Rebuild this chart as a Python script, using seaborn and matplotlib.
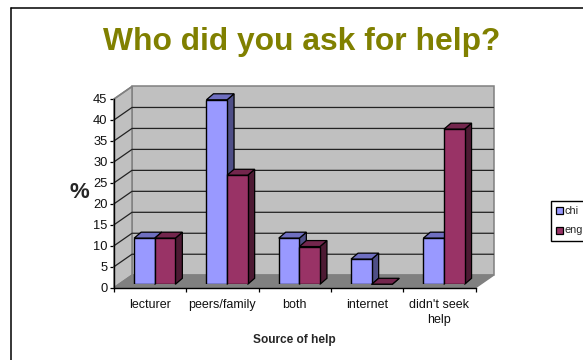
import matplotlib
matplotlib.use("Agg")
import matplotlib.pyplot as plt
from matplotlib.patches import Polygon, Rectangle
from matplotlib.lines import Line2D
import pandas as pd
import seaborn as sns

sources = ["lecturer", "peers/family", "both", "internet", "didn't seek\nhelp"]
chinese = [11, 44, 11, 6, 11]
english = [11, 26, 9, 0, 37]
y_ticks = [0, 5, 10, 15, 20, 25, 30, 35, 40, 45]

W, H = 583, 360
FRONT = dict(left=114, right=475.5, bottom=287.7, top=99)   # front plane, px
WALL_DX, WALL_DY = 18, 12.5                                 # depth of the chart box, px
BAR_DX, BAR_DY = 4.6, 3.4                                   # bar offset inside the box, px
BAR_DEPTH_X, BAR_DEPTH_Y = 7, 6                             # bar extrusion, px

COL_FACE = {"chi": "#9999FF", "eng": "#993366"}
COL_SIDE = {"chi": "#4F4F87", "eng": "#4D1A33"}
COL_TOP = {"chi": "#6F6FC0", "eng": "#73264D"}

sns.set_theme(style="white", rc={"font.family": ["Liberation Sans", "DejaVu Sans"]})
plt.rcParams["font.family"] = ["Liberation Sans", "DejaVu Sans"]

fig = plt.figure(figsize=(W / 100, H / 100), dpi=100, facecolor="white")


def pixel_axes(left, right, top, bottom, **kw):
    return fig.add_axes([left / W, 1 - bottom / H, (right - left) / W, (bottom - top) / H], **kw)


# slide border and title
fig.add_artist(Line2D([10.5 / W, 10.5 / W], [0, 1 - 7.5 / H], color="black", lw=1.1))
fig.add_artist(Line2D([10.5 / W, 1], [1 - 7.5 / H, 1 - 7.5 / H], color="black", lw=1.1))
fig.text(301.5 / W, 1 - 42 / H, "Who did you ask for help?", color="#808000",
         fontsize=22.9, fontweight="bold", ha="center", va="center")

# frame axes: the front plane of the chart box, with the real ticks and labels
frame = pixel_axes(FRONT["left"], FRONT["right"], FRONT["top"], FRONT["bottom"])
frame.set_xlim(0, len(sources))
frame.set_ylim(0, 45)
frame.patch.set_alpha(0)
ux = len(sources) / (FRONT["right"] - FRONT["left"])
uy = 45 / (FRONT["bottom"] - FRONT["top"])
dx, dy = WALL_DX * ux, WALL_DY * uy
n = len(sources)

edge = dict(edgecolor="#808080", lw=1.1, clip_on=False, zorder=1)
frame.add_patch(Polygon([(dx, dy), (n + dx, dy), (n + dx, 45 + dy), (dx, 45 + dy)], facecolor="#C0C0C0", **edge))
frame.add_patch(Polygon([(0, 0), (dx, dy), (dx, 45 + dy), (0, 45)], facecolor="#C0C0C0", **edge))
frame.add_patch(Polygon([(0, 0), (n, 0), (n + dx, dy), (dx, dy)], facecolor="#808080", **edge))
for t in y_ticks[1:-1]:
    frame.plot([0, dx, n + dx], [t, t + dy, t + dy], color="#222222", lw=0.9, clip_on=False, zorder=2)
frame.plot([0, dx], [45, 45 + dy], color="#808080", lw=1.1, clip_on=False, zorder=2)

for side in ("top", "right"):
    frame.spines[side].set_visible(False)
for side in ("left", "bottom"):
    frame.spines[side].set_color("black")
    frame.spines[side].set_linewidth(1.0)
    frame.spines[side].set_zorder(3)
frame.set_yticks(y_ticks)
frame.set_xticks(range(n + 1))
frame.set_xticklabels([])
frame.tick_params(axis="both", which="major", length=3.2, width=0.9, color="black",
                  left=True, bottom=True, labelsize=9, labelcolor="#111111", pad=1.5)
frame.tick_params(axis="y", labelsize=9.3)
for i, label in enumerate(sources):
    frame.text(i + 0.5, -2.6, label, ha="center", va="top", fontsize=9, linespacing=1.35, color="#111111")
frame.set_xlabel("")
frame.set_ylabel("")

fig.text(79.7 / W, 1 - 193 / H, "%", fontsize=16, fontweight="bold", ha="center", va="center")
fig.text(294.7 / W, 1 - 340 / H, "Source of help", fontsize=8.6, fontweight="bold", ha="center", va="center")

# bar axes: same scales as the frame, pushed back into the box
bars_ax = pixel_axes(FRONT["left"] + BAR_DX, FRONT["right"] + BAR_DX,
                     FRONT["top"] - BAR_DY, FRONT["bottom"] - BAR_DY)
bars_ax.patch.set_alpha(0)
data = pd.DataFrame({
    "source": sources * 2,
    "group": ["chi"] * n + ["eng"] * n,
    "value": chinese + english,
})
sns.barplot(data=data, x="source", y="value", hue="group", hue_order=["chi", "eng"],
            palette=COL_FACE, order=sources, width=0.57, gap=0, saturation=1,
            edgecolor="black", linewidth=1.0, legend=False, ax=bars_ax, zorder=5)
bars_ax.set_xlim(-0.5, n - 0.5)
bars_ax.set_ylim(0, 45)
bars_ax.axis("off")

# extruded side and top faces, derived from the bars themselves
bdx = BAR_DEPTH_X * ux
bdy = BAR_DEPTH_Y * uy
groups = ["chi"] * n + ["eng"] * n
outline = dict(edgecolor="black", lw=0.9, clip_on=False)
bars = [p for p in bars_ax.patches if isinstance(p, Rectangle)]
for bar, grp, order in sorted(zip(bars, groups, range(2 * n)), key=lambda r: r[2]):
    x0, w, h = bar.get_x(), bar.get_width(), bar.get_height()
    x1 = x0 + w
    z = 4 if grp == "chi" else 6
    bar.set_zorder(z + 0.5)
    bars_ax.add_patch(Polygon([(x1, 0), (x1 + bdx, bdy), (x1 + bdx, h + bdy), (x1, h)],
                              facecolor=COL_SIDE[grp], zorder=z, **outline))
    bars_ax.add_patch(Polygon([(x0, h), (x0 + bdx, h + bdy), (x1 + bdx, h + bdy), (x1, h)],
                              facecolor=COL_TOP[grp], zorder=z, **outline))

# legend box, running past the right edge of the canvas
fig.add_artist(Rectangle((550.5 / W, 1 - 240.5 / H), 60 / W, 40 / H, transform=fig.transFigure,
                         facecolor="white", edgecolor="black", lw=1.0))
for name, top in (("chi", 207), ("eng", 227)):
    fig.add_artist(Rectangle((555.5 / W, 1 - (top + 7) / H), 7 / W, 7 / H, transform=fig.transFigure,
                             facecolor=COL_FACE[name], edgecolor="black", lw=0.9))
    fig.text(564.5 / W, 1 - (top + 3.5) / H, name, fontsize=7.9, ha="left", va="center")

fig.savefig("out.png", dpi=100)
